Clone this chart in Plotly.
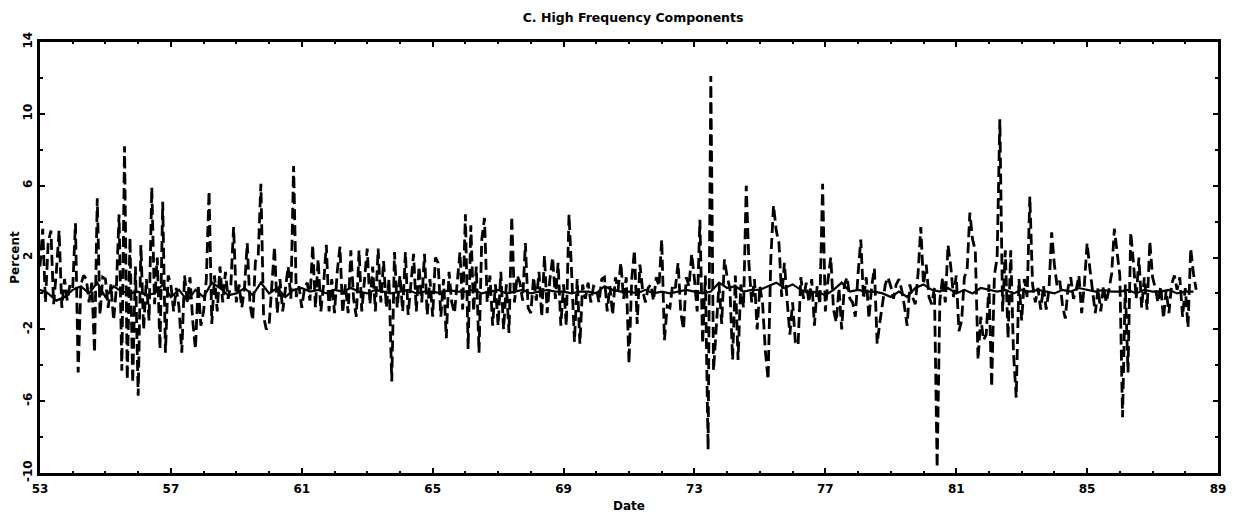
import plotly.graph_objects as go

# ---- data ----
start_year = 53.0
# monthly high-frequency component (dashed), 1953:01 onward
high_freq = [
    1.5, 3.6, -0.5, 2.8, 3.5, -0.6, 1.2, 3.5, -0.8, 0.8, -0.4, 0.5,      # 53
    0.3, 3.9, -4.4, 0.5, 1.0, 0.8, -0.5, 0.6, -3.3, 5.3, -1.2, 0.9,      # 54
    0.8, -0.8, 0.5, -1.5, 0.3, 4.4, -4.3, 8.2, -4.8, 3.1, -5.0, 1.5,     # 55
    -5.7, 2.7, -2.0, 0.8, -1.5, 5.9, -0.6, 2.0, -3.1, 5.1, -3.3, 1.0,    # 56
    0.5, -1.0, 0.3, -0.8, -3.3, 1.0, -0.5, 0.9, -1.5, -3.1, 0.5, -1.8,   # 57
    -1.0, 0.8, 5.7, -1.7, 1.0, -1.0, 1.5, -0.5, 1.2, -0.3, 0.5, 3.7,     # 58
    -0.5, 0.5, -0.8, 0.3, 2.8, -0.6, -1.5, 1.8, 2.0, 6.1, -1.3, -2.0,    # 59
    -1.8, 0.5, 2.6, -1.1, 0.8, -1.0, 0.3, 1.5, -0.3, 7.1, -0.2, 0.4,     # 60
    -0.8, 0.3, 0.6, -0.4, 2.7, -0.8, 1.9, -1.0, 0.5, 2.7, -1.0, 0.8,     # 61
    -1.1, 1.2, 2.6, -1.1, 0.5, -1.1, 2.4, -0.3, -1.3, 2.4, -1.0, 0.6,    # 62
    2.5, -0.6, 1.5, -1.0, 2.5, -0.5, 1.8, -0.8, 0.8, -4.9, 2.3, -0.8,    # 63
    1.0, -1.0, 2.3, -1.2, 0.5, 2.2, -1.0, 1.5, -0.5, 2.2, -1.2, 0.8,     # 64
    -1.3, 2.0, 1.7, -1.3, 0.8, -2.5, 1.2, -0.5, -1.1, 0.6, 2.3, -0.9,    # 65
    4.4, -3.1, 3.8, -1.0, 1.5, -3.3, 3.0, 4.2, -0.5, 1.0, -1.8, 0.5,     # 66
    -1.8, 1.2, -2.0, 0.5, -2.2, 4.3, -0.5, 1.0, 0.6, -0.4, 2.8, -0.8,    # 67
    -1.1, 0.9, -0.4, 1.2, -1.3, 2.1, -1.1, 0.8, 2.0, -0.3, 1.7, -1.8,    # 68
    0.5, -1.8, 4.4, 1.0, -2.7, 0.8, -2.8, 0.5, -0.3, 0.6, -0.5, 0.4,     # 69
    0.3, -0.5, 0.8, 0.9, -1.0, 0.4, -1.2, 0.9, 0.2, 1.7, -0.3, 0.9,      # 70
    -3.9, 0.8, 2.4, -1.7, 1.6, 0.2, -0.5, 0.3, 0.5, -0.4, 0.9, 0.4,      # 71
    3.0, -2.6, -0.7, -0.8, 0.5, 0.3, 1.7, -1.1, -2.0, 0.9, 0.4, 2.2,     # 72
    0.8, -1.0, 4.1, -2.8, 1.0, -8.7, 12.1, -4.3, -1.7, 0.5, -1.7, 1.9,   # 73
    0.9, 0.3, -3.7, 1.0, -3.7, 0.5, -0.8, 6.0, 1.6, -0.5, 0.8, -2.0,     # 74
    0.4, -0.6, -3.2, -4.8, 1.9, 4.9, 3.5, 2.8, -0.2, 1.7, -0.4, -2.3,    # 75
    -0.5, -2.7, -2.9, 0.9, -0.3, 0.6, -0.5, 0.8, -1.8, 0.4, -0.6, 6.1,   # 76
    -1.0, 0.8, 2.0, -0.9, -1.6, 0.3, -2.0, 0.5, 0.9, -0.3, -0.5, -1.3,   # 77
    1.1, 3.0, -0.3, 0.9, -1.4, 0.4, 1.4, -2.8, -1.6, -0.4, 0.5, 0.9,     # 78
    0.4, -0.3, 0.5, 0.8, 0.2, -0.7, -1.8, 0.5, -0.2, -0.6, 1.1, 3.7,     # 79
    0.5, 1.6, -0.2, -0.6, 0.3, -9.7, -0.4, 0.9, -0.5, 2.7, 1.5, -0.2,    # 80
    1.0, -2.1, -1.5, 0.9, 1.3, 4.5, 3.0, 2.4, -3.7, -1.3, -2.6, -2.3,    # 81
    0.5, -5.2, 1.0, 2.0, 9.7, -1.0, 2.4, -2.5, 2.4, -3.3, -5.8, 0.8,     # 82
    -1.5, 0.8, -0.2, 5.4, 0.5, -0.5, 0.3, -0.9, 0.4, -0.9, 0.2, 3.4,     # 83
    1.6, 0.4, 0.7, -0.7, -1.4, 0.3, 0.9, -0.3, 0.2, 1.0, -1.1, 0.5,      # 84
    2.8, 1.4, 0.2, -1.1, 0.3, -1.0, 0.4, -0.5, 0.2, 1.1, 3.6, 2.4,       # 85
    1.0, -6.9, 0.5, -4.4, 3.4, 1.7, -0.3, 2.0, -0.8, 0.9, -0.9, 2.9,     # 86
    0.9, 0.3, -0.5, 0.4, -1.4, 0.2, -1.1, 0.5, 1.0, 0.2, 0.9, -1.3,      # 87
    0.3, -1.9, 2.5, 1.1, 0.2,                                            # 88
]

# quarterly smooth component (solid), 1953Q1 onward
smooth = [
    0.2, 0.0, -0.4, -0.2,   # 53
    0.2, 0.4, 0.0, 0.6,     # 54
    -0.2, 0.4, 0.1, 0.0,    # 55
    0.1, -0.1, 0.0, 0.5,    # 56
    -0.2, 0.2, -0.4, 0.2,   # 57
    -0.2, 0.6, 0.3, -0.1,   # 58
    0.0, 0.3, -0.1, 0.6,    # 59
    0.0, 0.3, -0.2, 0.2,    # 60
    0.3, 0.1, 0.2, 0.0,     # 61
    0.2, 0.1, 0.3, 0.1,     # 62
    0.0, 0.2, 0.1, 0.0,     # 63
    0.1, 0.2, 0.0, 0.1,     # 64
    0.1, 0.0, 0.2, 0.1,     # 65
    0.1, 0.2, 0.0, 0.1,     # 66
    0.2, 0.0, 0.1, 0.2,     # 67
    0.0, 0.1, 0.2, 0.1,     # 68
    0.1, 0.0, 0.1, 0.1,     # 69
    0.0, 0.4, 0.2, 0.1,     # 70
    0.1, 0.0, 0.2, 0.0,     # 71
    0.1, 0.0, 0.1, 0.2,     # 72
    0.1, 0.0, 0.1, 0.6,     # 73
    0.3, 0.4, 0.1, 0.2,     # 74
    0.2, 0.4, 0.6, 0.3,     # 75
    0.5, 0.2, 0.0, 0.1,     # 76
    -0.1, 0.2, 0.6, 0.1,    # 77
    0.2, 0.1, 0.1, 0.0,     # 78
    -0.2, 0.1, -0.2, 0.3,   # 79
    0.5, 0.2, 0.1, 0.3,     # 80
    0.0, 0.2, 0.0, 0.3,     # 81
    0.2, 0.1, 0.2, 0.0,     # 82
    0.2, 0.1, 0.2, 0.1,     # 83
    0.0, 0.2, 0.1, 0.3,     # 84
    0.2, 0.1, 0.2, 0.1,     # 85
    0.1, 0.2, 0.0, 0.2,     # 86
    0.1, 0.1, 0.2, 0.0,     # 87
    0.1, 0.1,               # 88
]

x_tick_vals = [53, 57, 61, 65, 69, 73, 77, 81, 85, 89]
x_tick_text = ["53", "57", "61", "65", "69", "73", "77", "81", "85", "89"]
y_tick_vals = [-10, -6, -2, 2, 6, 10, 14]
y_tick_text = ["-10", "-6", "-2", "2", "6", "10", "14"]

months = [start_year + i / 12 for i in range(len(high_freq))]
quarters = [start_year + i / 4 for i in range(len(smooth))]

fig = go.Figure()
fig.add_trace(go.Scatter(
    x=months, y=high_freq, mode="lines",
    line=dict(color="black", width=2.8, dash="11px,5px"),
    showlegend=False, hoverinfo="skip"))
fig.add_trace(go.Scatter(
    x=quarters, y=smooth, mode="lines",
    line=dict(color="black", width=2.2),
    showlegend=False, hoverinfo="skip"))

font_family = "DejaVu Sans, Arial, sans-serif"
# page body has an 8px default margin: size the figure so the plot area
# lands where the reference has it inside the 1237x519 window
fig.update_layout(
    width=1229, height=511,
    margin=dict(l=32, r=19, t=34, b=46, autoexpand=False),
    paper_bgcolor="white", plot_bgcolor="white",
    title=dict(text="C. High Frequency Components", x=0.5086, xanchor="center",
               y=0.982, yanchor="middle", automargin=False,
               font=dict(family=font_family, size=12.5, color="black", weight=600)),
    font=dict(family=font_family, size=11, color="black", weight=600),
)
fig.update_xaxes(
    range=[53, 89], tickvals=x_tick_vals, ticktext=x_tick_text,
    ticks="inside", ticklen=5, tickwidth=1.5, tickcolor="black",
    minor=dict(dtick=1, ticks="inside", ticklen=2, tickcolor="black"),
    showline=True, linecolor="black", linewidth=2.5, mirror="allticks",
    showgrid=False, zeroline=False, automargin=False, ticklabelstandoff=3,
    title=dict(text="Date", font=dict(size=12, weight=600), standoff=7),
    tickfont=dict(size=12, weight=600),
)
fig.update_yaxes(
    range=[-10, 14], tickvals=y_tick_vals, ticktext=y_tick_text,
    ticks="inside", ticklen=5, tickwidth=1.5, tickcolor="black",
    minor=dict(dtick=2, ticks="inside", ticklen=3, tickcolor="black"),
    showline=True, linecolor="black", linewidth=2.5, mirror="allticks",
    showgrid=False, zeroline=False, tickangle=-90, automargin=False,
    title=dict(text="Percent", font=dict(size=12, weight=600), standoff=4),
    tickfont=dict(size=12, weight=600),
)

fig.write_html("out.html")
